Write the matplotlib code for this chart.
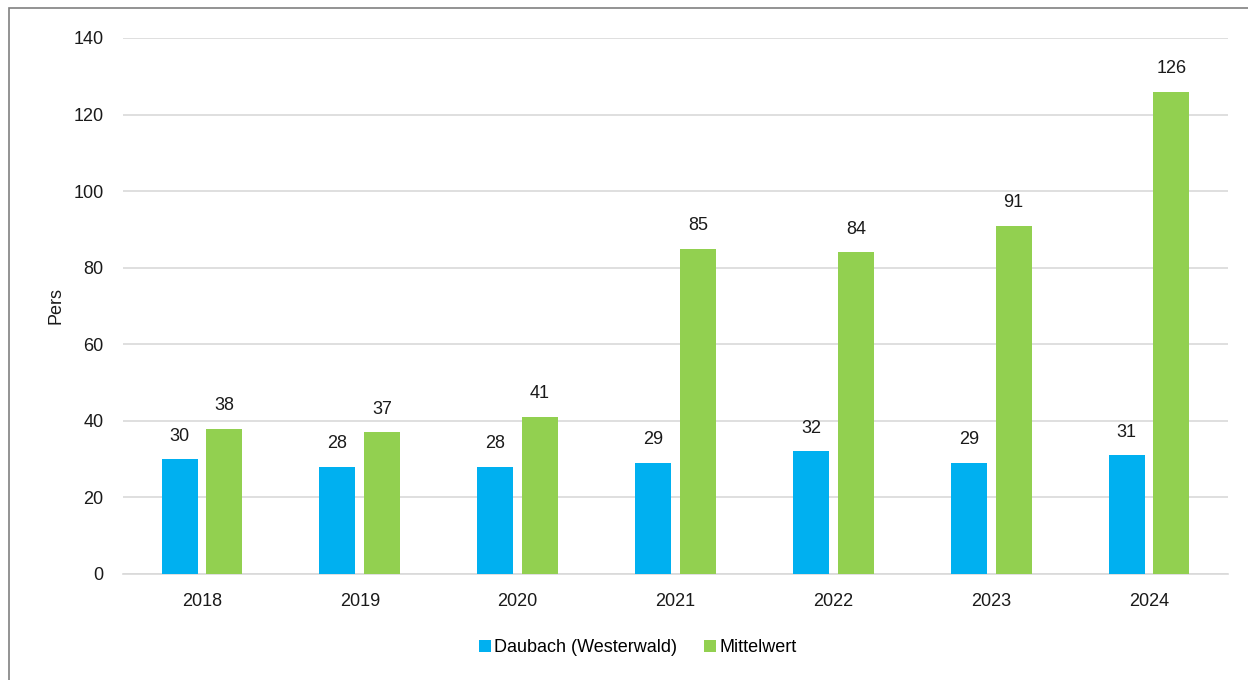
import matplotlib.pyplot as plt
import numpy as np
from matplotlib.patches import Rectangle

plt.rcParams['font.family'] = ['Liberation Sans', 'DejaVu Sans']

years = ['2018', '2019', '2020', '2021', '2022', '2023', '2024']
daubach = [30, 28, 28, 29, 32, 29, 31]
mittelwert = [38, 37, 41, 85, 84, 91, 126]

fig = plt.figure(figsize=(12.48, 6.8), dpi=100)
ax = fig.add_axes([123 / 1248, 1 - 574 / 680, 1105 / 1248, 536 / 680])

x = np.arange(len(years))
w = 0.228
off = 0.142
b1 = ax.bar(x - off, daubach, w, color='#00B0F0', label='Daubach (Westerwald)', zorder=3)
b2 = ax.bar(x + off, mittelwert, w, color='#92D050', label='Mittelwert', zorder=3)

for bars in (b1, b2):
    ax.bar_label(bars, padding=10.5, fontsize=13, color='#1a1a1a')

ax.set_xlim(-0.5, len(years) - 0.5)
ax.set_ylim(0, 140)
ax.set_yticks(range(0, 141, 20))
ax.set_xticks(x)
ax.set_xticklabels(years)
ax.tick_params(axis='both', length=0, labelsize=13, labelcolor='#1a1a1a')
ax.tick_params(axis='y', pad=14)
ax.tick_params(axis='x', pad=14)
ax.grid(axis='y', color='#D9D9D9', linewidth=1.2, zorder=0)
for s in ['top', 'right', 'left']:
    ax.spines[s].set_visible(False)
ax.spines['bottom'].set_color('#D9D9D9')
ax.spines['bottom'].set_linewidth(1.2)
ax.set_ylabel('Pers', fontsize=13, color='#1a1a1a', labelpad=6)

fig.legend(loc='center', bbox_to_anchor=(638 / 1248, 1 - 648 / 680), ncol=2,
           frameon=False, fontsize=13, handlelength=0.65, handleheight=0.65,
           handletextpad=0.2, columnspacing=1.5)

# outer chart border
fig.patches.append(Rectangle((9 / 1248, -0.1), 1.2, 1 - 8 / 680 + 0.1,
                             transform=fig.transFigure, fill=False,
                             edgecolor='#808080', linewidth=1.2))

fig.savefig('out.png', dpi=100)
